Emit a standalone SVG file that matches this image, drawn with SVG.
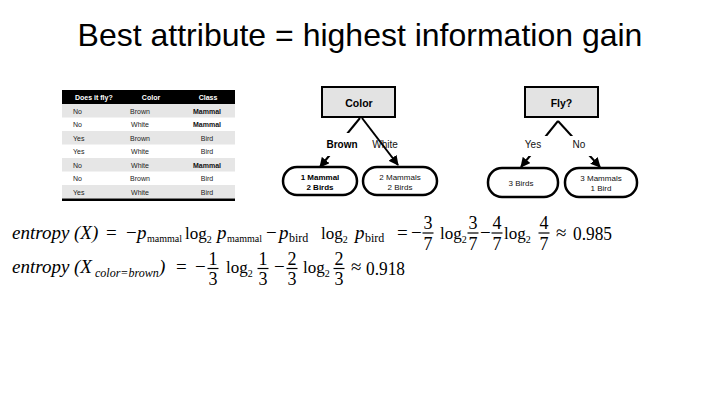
<svg xmlns="http://www.w3.org/2000/svg" width="720" height="405" viewBox="0 0 720 405">
<style>
.title{font-family:"Liberation Sans",Arial,sans-serif;font-size:32px;fill:#000}
.th{font-family:"Liberation Sans",Arial,sans-serif;font-size:7px;font-weight:bold;fill:#fff}
.td{font-family:"Liberation Sans",Arial,sans-serif;font-size:7px;fill:#222}
.tdb{font-family:"Liberation Sans",Arial,sans-serif;font-size:7px;font-weight:bold;fill:#111}
.box{fill:#e3e3e3;stroke:#000;stroke-width:2}
.leaf{fill:#fff;stroke:#000;stroke-width:2.5}
.nt{font-family:"Liberation Sans",Arial,sans-serif;font-size:10.5px;font-weight:bold;fill:#000;text-anchor:middle}
.lt{font-family:"Liberation Sans",Arial,sans-serif;font-size:8px;fill:#111;text-anchor:middle}
.ltb{font-family:"Liberation Sans",Arial,sans-serif;font-size:8px;font-weight:bold;fill:#000;text-anchor:middle}
.el{font-family:"Liberation Sans",Arial,sans-serif;font-size:10px;fill:#111;text-anchor:middle}
.elb{font-family:"Liberation Sans",Arial,sans-serif;font-size:10px;font-weight:bold;fill:#000;text-anchor:middle}
.conn{stroke:#000;stroke-width:2;fill:none}
.m{font-family:"Liberation Serif","Times New Roman",serif;font-size:19px;fill:#000}
.mi{font-family:"Liberation Serif","Times New Roman",serif;font-size:19px;font-style:italic;fill:#000}
.lg{font-family:"Liberation Serif","Times New Roman",serif;font-size:17px;fill:#000}
.lg tspan{font-size:10px}
.ms{font-family:"Liberation Serif","Times New Roman",serif;font-size:10px;fill:#000}
.msb{font-family:"Liberation Serif","Times New Roman",serif;font-size:12px;fill:#000}
.msi{font-family:"Liberation Serif","Times New Roman",serif;font-size:12px;font-style:italic;fill:#000}
.fr{font-family:"Liberation Serif","Times New Roman",serif;font-size:18px;fill:#000;text-anchor:middle}
.bar{stroke:#000;stroke-width:1.2}
</style>
<defs>
<marker id="arr" markerUnits="userSpaceOnUse" markerWidth="10" markerHeight="10" viewBox="0 0 10 10" refX="9" refY="5" orient="auto">
<path d="M0,0 L10,5 L0,10 z" fill="#000"/>
</marker>
</defs>
<rect width="720" height="405" fill="#fff"/>
<text class="title" x="360" y="46" text-anchor="middle">Best attribute = highest information gain</text>

<g id="table">
<rect x="62" y="90" width="173" height="14" fill="#000"/>
<rect x="62" y="104" width="173" height="13.5" fill="#e6e6e6"/>
<rect x="62" y="131" width="173" height="13.5" fill="#e6e6e6"/>
<rect x="62" y="158" width="173" height="13.5" fill="#e6e6e6"/>
<rect x="62" y="185" width="173" height="13.5" fill="#e6e6e6"/>
<rect x="62" y="198.5" width="173" height="2.5" fill="#000"/>
<text class="th" x="75" y="99.5">Does it fly?</text>
<text class="th" x="151" y="99.5" text-anchor="middle">Color</text>
<text class="th" x="208" y="99.5" text-anchor="middle">Class</text>
<text class="td" x="73" y="113.5">No</text><text class="td" x="140" y="113.5" text-anchor="middle">Brown</text><text class="tdb" x="207" y="113.5" text-anchor="middle">Mammal</text>
<text class="td" x="73" y="127">No</text><text class="td" x="140" y="127" text-anchor="middle">White</text><text class="tdb" x="207" y="127" text-anchor="middle">Mammal</text>
<text class="td" x="73" y="140.5">Yes</text><text class="td" x="140" y="140.5" text-anchor="middle">Brown</text><text class="td" x="207" y="140.5" text-anchor="middle">Bird</text>
<text class="td" x="73" y="154">Yes</text><text class="td" x="140" y="154" text-anchor="middle">White</text><text class="td" x="207" y="154" text-anchor="middle">Bird</text>
<text class="td" x="73" y="167.5">No</text><text class="td" x="140" y="167.5" text-anchor="middle">White</text><text class="tdb" x="207" y="167.5" text-anchor="middle">Mammal</text>
<text class="td" x="73" y="181">No</text><text class="td" x="140" y="181" text-anchor="middle">Brown</text><text class="td" x="207" y="181" text-anchor="middle">Bird</text>
<text class="td" x="73" y="194.5">Yes</text><text class="td" x="140" y="194.5" text-anchor="middle">White</text><text class="td" x="207" y="194.5" text-anchor="middle">Bird</text>
</g>

<g id="connectors">
<line class="conn" x1="360" y1="118" x2="320" y2="167" marker-end="url(#arr)" stroke-width="2.5"/>
<line class="conn" x1="362" y1="118" x2="398" y2="165" marker-end="url(#arr)"/>
<line class="conn" x1="558" y1="121" x2="521" y2="167" marker-end="url(#arr)"/>
<line class="conn" x1="558" y1="121" x2="600" y2="167" marker-end="url(#arr)"/>
<rect x="322" y="133" width="40" height="23" fill="#fff"/>
<rect x="518" y="136" width="31" height="20" fill="#fff"/>
<rect x="568" y="136" width="27" height="20" fill="#fff"/>
<text class="elb" x="342" y="148">Brown</text>
<text class="el" x="385" y="148">White</text>
<text class="el" x="533" y="148">Yes</text>
<text class="el" x="579" y="148">No</text>
</g>

<g id="node-color">
<rect class="box" x="322" y="87" width="73" height="30"/>
<text class="nt" x="359" y="106.5">Color</text>
</g>
<g id="node-fly">
<rect class="box" x="525" y="87" width="73" height="30"/>
<text class="nt" x="561.5" y="106.5">Fly?</text>
</g>
<g id="leaf-brown">
<rect class="leaf" x="283" y="167" width="74" height="28" rx="14"/>
<text class="ltb" x="320" y="180">1 Mammal</text>
<text class="ltb" x="320" y="190">2 Birds</text>
</g>
<g id="leaf-white">
<rect class="leaf" x="363" y="167" width="74" height="28" rx="14"/>
<text class="lt" x="400" y="180">2 Mammals</text>
<text class="lt" x="400" y="190">2 Birds</text>
</g>
<g id="leaf-yes">
<rect class="leaf" x="488" y="168" width="70" height="29" rx="14"/>
<text class="lt" x="521" y="185.5">3 Birds</text>
</g>
<g id="leaf-no">
<rect class="leaf" x="565" y="168" width="72" height="29" rx="14"/>
<text class="lt" x="601" y="181">3 Mammals</text>
<text class="lt" x="601" y="191">1 Bird</text>
</g>

<g id="equation-1">
<text class="mi" x="12" y="239">entropy</text>
<text class="mi" x="74" y="239">(X)</text>
<text class="m" x="106" y="239">=</text>
<text class="m" x="126" y="239">−</text>
<text class="mi" x="137" y="239">p</text>
<text class="ms" x="147" y="242">mammal</text>
<text class="lg" x="185" y="239">log<tspan dy="4">2</tspan></text>
<text class="mi" x="217" y="239">p</text>
<text class="ms" x="227" y="242">mammal</text>
<text class="m" x="266" y="239">−</text>
<text class="mi" x="279" y="239">p</text>
<text class="msb" x="289" y="242">bird</text>
<text class="lg" x="321" y="239">log<tspan dy="4">2</tspan></text>
<text class="mi" x="355" y="239">p</text>
<text class="msb" x="365" y="242">bird</text>
<text class="m" x="397" y="239">=</text>
<text class="m" x="411" y="239">−</text>
<text class="fr" x="428" y="229">3</text><line class="bar" x1="422.5" y1="233" x2="433.5" y2="233"/><text class="fr" x="428" y="250">7</text>
<text class="lg" x="440" y="239">log<tspan dy="4">2</tspan></text>
<text class="fr" x="473" y="229">3</text><line class="bar" x1="467.5" y1="233" x2="478.5" y2="233"/><text class="fr" x="473" y="250">7</text>
<text class="m" x="480" y="239">−</text>
<text class="fr" x="497" y="229">4</text><line class="bar" x1="491.5" y1="233" x2="502.5" y2="233"/><text class="fr" x="497" y="250">7</text>
<text class="lg" x="504" y="239">log<tspan dy="4">2</tspan></text>
<text class="fr" x="544" y="229">4</text><line class="bar" x1="538.5" y1="233" x2="549.5" y2="233"/><text class="fr" x="544" y="250">7</text>
<text class="m" x="556" y="239">≈</text>
<text class="m" x="573" y="240" textLength="39" lengthAdjust="spacingAndGlyphs">0.985</text>
</g>

<g id="equation-2">
<text class="mi" x="12" y="273">entropy</text>
<text class="mi" x="74" y="273">(X</text>
<text class="msi" x="95" y="277">color=brown</text>
<text class="mi" x="159" y="273">)</text>
<text class="m" x="176" y="273">=</text>
<text class="m" x="195" y="273">−</text>
<text class="fr" x="213" y="265">1</text><line class="bar" x1="207.5" y1="268.5" x2="218.5" y2="268.5"/><text class="fr" x="213" y="285">3</text>
<text class="lg" x="226" y="273">log<tspan dy="4">2</tspan></text>
<text class="fr" x="263" y="265">1</text><line class="bar" x1="257.5" y1="268.5" x2="268.5" y2="268.5"/><text class="fr" x="263" y="285">3</text>
<text class="m" x="274" y="273">−</text>
<text class="fr" x="292" y="265">2</text><line class="bar" x1="286.5" y1="268.5" x2="297.5" y2="268.5"/><text class="fr" x="292" y="285">3</text>
<text class="lg" x="303" y="273">log<tspan dy="4">2</tspan></text>
<text class="fr" x="339" y="265">2</text><line class="bar" x1="333.5" y1="268.5" x2="344.5" y2="268.5"/><text class="fr" x="339" y="285">3</text>
<text class="m" x="351" y="273">≈</text>
<text class="m" x="366" y="275" textLength="39" lengthAdjust="spacingAndGlyphs">0.918</text>
</g>
</svg>
